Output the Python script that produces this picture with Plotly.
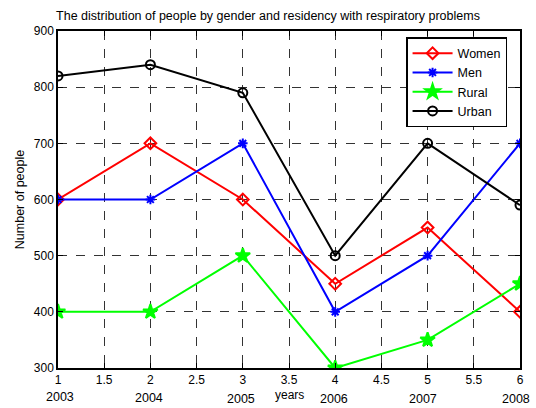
import plotly.graph_objects as go

x_vals = [1, 2, 3, 4, 5, 6]
women = [600, 700, 600, 450, 550, 400]
men = [600, 600, 700, 400, 500, 700]
rural = [400, 400, 500, 300, 350, 450]
urban = [820, 840, 790, 500, 700, 590]
year_labels = ["2003", "2004", "2005", "2006", "2007", "2008"]
year_pos = [1.02, 1.99, 2.98, 3.99, 4.95, 5.96]
year_shift = [-29, -30, -31, -31, -31, -31]
x_ticks = [1, 1.5, 2, 2.5, 3, 3.5, 4, 4.5, 5, 5.5, 6]
x_ticktext = ["1", "1.5", "2", "2.5", "3", "3.5", "4", "4.5", "5", "5.5", "6"]
y_ticks = [300, 400, 500, 600, 700, 800, 900]

fig = go.Figure()
series = [
    ("Women", women, "#ff0000", "diamond-open", 9),
    ("Men", men, "#0000ff", "asterisk-open", 8),
    ("Rural", rural, "#00ff00", "star", 11),
    ("Urban", urban, "#000000", "circle-open", 9),
]
for name, vals, col, sym, sz in series:
    fig.add_trace(go.Scatter(
        x=x_vals, y=vals, name=name, mode="lines+markers",
        line=dict(color=col, width=2),
        marker=dict(symbol=sym, size=sz, color=col, line=dict(color=col, width=2)),
    ))

for lbl, xp, ys in zip(year_labels, year_pos, year_shift):
    fig.add_annotation(x=xp, y=0, xref="x", yref="paper", text=lbl, showarrow=False,
                       yanchor="middle", yshift=ys, font=dict(size=12.5, color="black"))
fig.add_annotation(x=3.5, y=0, xref="x", yref="paper", text="years", showarrow=False,
                   yanchor="middle", yshift=-27, font=dict(size=12, color="black"))

axis_common = dict(
    showgrid=True, gridcolor="#333333", griddash="dash", gridwidth=1,
    ticks="inside", ticklen=5, tickcolor="black", showline=True, linecolor="black",
    linewidth=1.5, mirror="ticks", zeroline=False,
    tickfont=dict(size=12, color="black"),
)
fig.update_xaxes(range=[1, 6], tickvals=x_ticks, ticktext=x_ticktext, **axis_common)
fig.update_yaxes(range=[300, 900], tickvals=y_ticks,
                 title=dict(text="Number of people", font=dict(size=12.5, color="black"), standoff=6),
                 **axis_common)

fig.update_layout(
    width=536, height=408,
    margin=dict(l=58, r=14, t=31, b=40),
    paper_bgcolor="white", plot_bgcolor="white",
    font=dict(family="Liberation Sans, Arial, sans-serif", color="black"),
    title=dict(text="The distribution of people by gender and residency with respiratory problems",
               x=0.5, xanchor="center", y=0.962, yanchor="middle",
               font=dict(size=12.5, color="black")),
    legend=dict(x=0.972, y=0.982, xanchor="right", yanchor="top",
                bgcolor="white", bordercolor="black", borderwidth=1.5,
                font=dict(size=12.5, color="black"), itemwidth=40,
                tracegroupgap=0),
)

fig.write_html("out.html")
